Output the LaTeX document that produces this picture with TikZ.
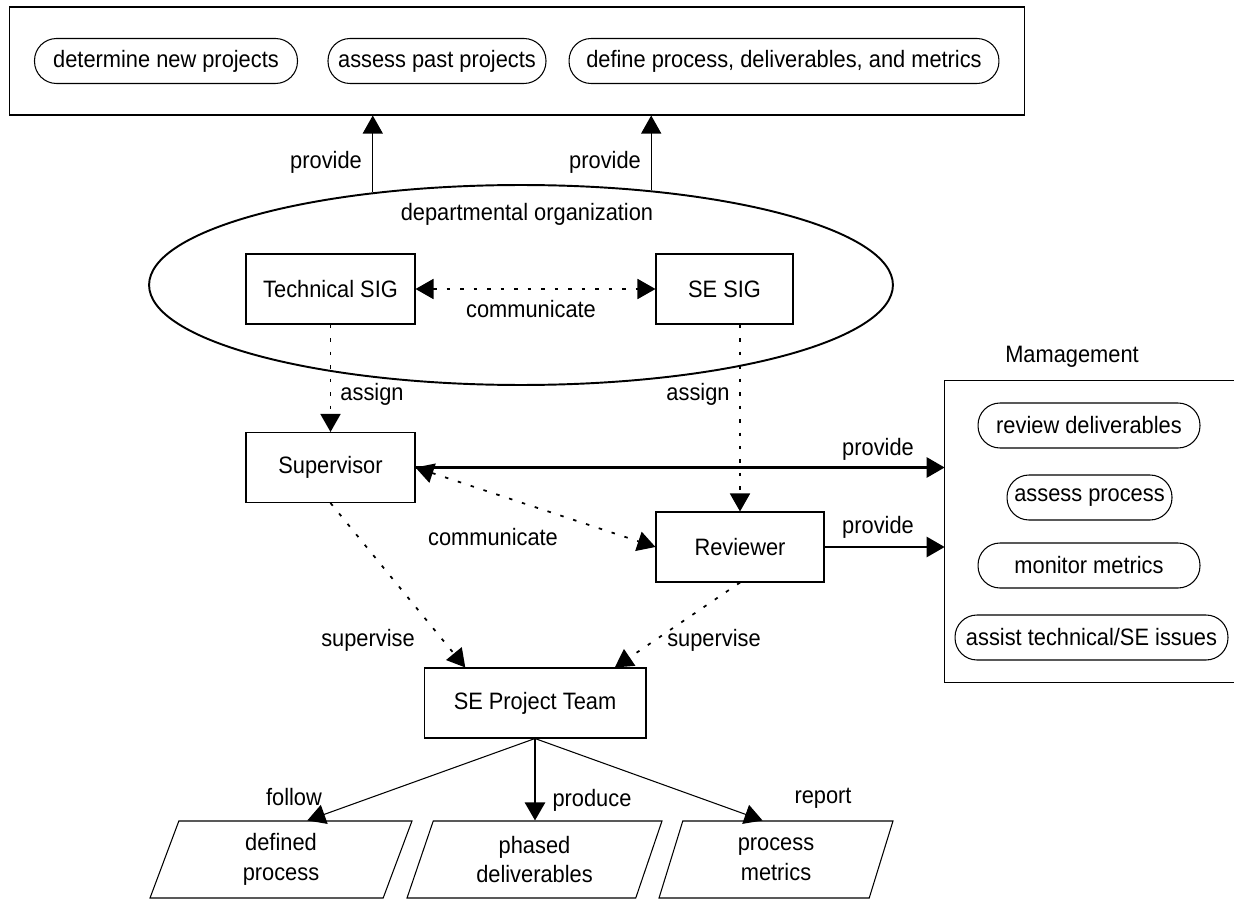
\documentclass[tikz,border=0pt]{standalone}
\usepackage{fontspec}
\setmainfont{Liberation Sans}[FakeStretch=0.92]
\usetikzlibrary{positioning, shapes.geometric, arrows.meta}
\tikzset{
  box/.style={draw, line width=0.6pt, minimum height=1.4cm, inner sep=0pt},
  pill/.style={draw, line width=0.6pt, rounded corners=0.44cm, minimum height=0.9cm, inner xsep=0.1cm},
  datashape/.style={draw, line width=0.6pt, trapezium, trapezium left angle=61, trapezium right angle=119, trapezium stretches body, minimum height=1.54cm, align=center, inner sep=0pt},
  lbl/.style={inner sep=1pt},
  dots/.style={line width=1pt, dash pattern=on 0.07cm off 0.2cm},
  thinline/.style={line width=0.6pt},
  thickline/.style={line width=1.5pt}
}
\begin{document}
\begin{tikzpicture}[x=0.02cm, y=-0.02cm, font=\fontsize{13.5}{17}\selectfont, >={Triangle[length=0.36cm, width=0.4cm]}]
    \useasboundingbox (0,0) rectangle (1234,902);
    \node[box, minimum width=20.32cm, minimum height=2.16cm] (goals) at (517,61) {};
    \node[pill, minimum width=5.26cm] (newproj) at (166,61) {determine new projects};
    \node[pill, minimum width=4.36cm] (pastproj) at (437,61) {assess past projects};
    \node[pill, minimum width=8.6cm] (define) at (784,61) {define process, deliverables, and metrics};
    \node[draw, ellipse, line width=1.1pt, minimum width=14.88cm, minimum height=4cm, inner sep=0pt] (dept) at (521,285) {};
    \node[lbl] (deptlbl) at (527,214) {departmental organization};
    \node[box, minimum width=3.38cm] (tsig) at (330.5,289) {Technical SIG};
    \node[box, minimum width=2.74cm] (ssig) at (724.5,289) {SE SIG};
    \node[box, minimum width=3.38cm] (sup) at (330.5,467.5) {Supervisor};
    \node[box, minimum width=3.36cm] (rev) at (740,547) {Reviewer};
    \node[box, minimum width=4.44cm] (team) at (535,703) {SE Project Team};
    \node[lbl] (mgmtlbl) at (1072,357) {Mamagement};
    \node[minimum width=5.78cm, minimum height=6.02cm] (mgmt) at (1089.5,531.5) {};
    \draw[thinline] (mgmt.north east) -- (mgmt.north west) -- (mgmt.south west) -- (mgmt.south east);
    \node[pill, minimum width=4.44cm] (revdel) at (1089,425.5) {review deliverables};
    \node[pill, minimum width=3.3cm] (assproc) at (1089.5,497.5) {assess process};
    \node[pill, minimum width=4.44cm] (monmet) at (1089,565.5) {monitor metrics};
    \node[pill, minimum width=5.46cm] (assist) at (1091.5,637.5) {assist technical/SE issues};
    \node[datashape, minimum width=5.24cm] (defproc) at (281,859.5) {defined\\process};
    \node[datashape, minimum width=5.1cm] (phdel) at (534.5,859.5) {phased\\deliverables};
    \node[datashape, minimum width=4.68cm] (procmet) at (776,859.5) {process\\metrics};
    \draw[thinline, ->] (dept.148) -- (dept.148 |- goals.south);
    \node[lbl] (prov1) at (326,162) {provide};
    \draw[thinline, ->] (dept.36) -- (dept.36 |- goals.south);
    \node[lbl] (prov2) at (605,162) {provide};
    \draw[dots, <->] (tsig) -- (ssig);
    \node[lbl] (comm1) at (531,309) {communicate};
    \draw[dots, ->] (tsig) -- (sup);
    \node[lbl] (asg1) at (372,394) {assign};
    \draw[dots, ->] (rev.north |- ssig.south) -- (rev.north);
    \node[lbl] (asg2) at (698,394) {assign};
    \draw[thickline, ->] (sup.east) -- (sup.east -| mgmt.west);
    \node[lbl] (prov3) at (878,449) {provide};
    \draw[thickline, ->] (rev.east) -- (rev.east -| mgmt.west);
    \node[lbl] (prov4) at (878,527) {provide};
    \draw[dots, <->] (sup.east) -- (rev.west);
    \node[lbl] (comm2) at (493,537) {communicate};
    \draw[dots, ->] (sup.south) -- (team.153);
    \node[lbl] (sv1) at (368,640) {supervise};
    \draw[dots, ->] (rev.south) -- (team.24);
    \node[lbl] (sv2) at (714,640) {supervise};
    \draw[thinline, ->] (team.south) -- (defproc.56);
    \node[lbl] (fol) at (294,797) {follow};
    \draw[thickline, ->] (team.south) -- (team.south |- phdel.north);
    \node[lbl] (prod) at (592,800) {produce};
    \draw[thinline, ->] (team.south) -- (procmet.109);
    \node[lbl] (rep) at (823,798) {report};
\end{tikzpicture}
\end{document}
